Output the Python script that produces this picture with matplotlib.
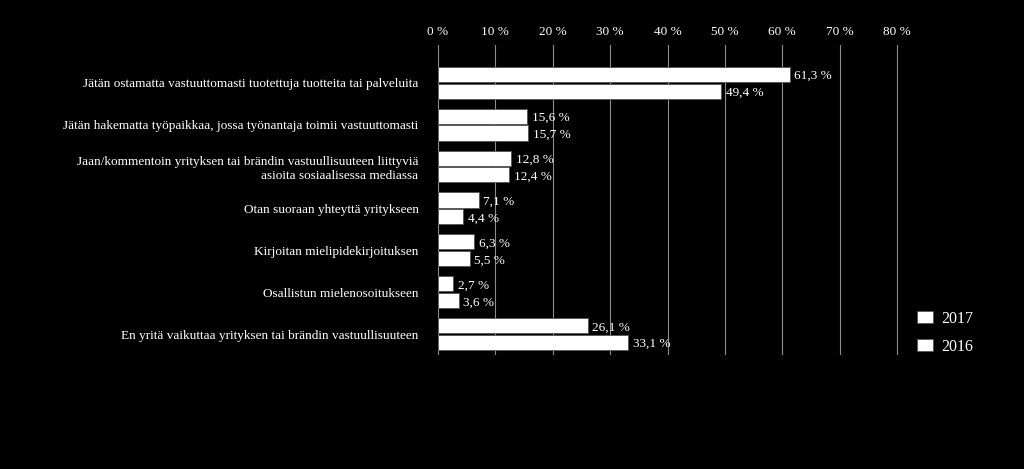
import matplotlib.pyplot as plt
import numpy as np

plt.rcParams['font.family'] = ['Liberation Serif', 'DejaVu Serif']

categories = [
    'Jätän ostamatta vastuuttomasti tuotettuja tuotteita tai palveluita',
    'Jätän hakematta työpaikkaa, jossa työnantaja toimii vastuuttomasti',
    'Jaan/kommentoin yrityksen tai brändin vastuullisuuteen liittyviä\nasioita sosiaalisessa mediassa',
    'Otan suoraan yhteyttä yritykseen',
    'Kirjoitan mielipidekirjoituksen',
    'Osallistun mielenosoitukseen',
    'En yritä vaikuttaa yrityksen tai brändin vastuullisuuteen',
]
v2017 = [61.3, 15.6, 12.8, 7.1, 6.3, 2.7, 26.1]
v2016 = [49.4, 15.7, 12.4, 4.4, 5.5, 3.6, 33.1]
xticks = [0, 10, 20, 30, 40, 50, 60, 70, 80]

fig = plt.figure(figsize=(10.24, 4.69), dpi=100, facecolor='black')
ax = fig.add_axes([0.4277, 0.243, 0.4495, 0.661], facecolor='black')

y = np.arange(len(categories))
h = 0.36
b1 = ax.barh(y - 0.2, v2017, height=h, color='white', edgecolor='#555555', linewidth=0.6, label='2017', zorder=3)
b2 = ax.barh(y + 0.2, v2016, height=h, color='white', edgecolor='#555555', linewidth=0.6, label='2016', zorder=3)

for bars, vals in ((b1, v2017), (b2, v2016)):
    for bar, v in zip(bars, vals):
        ax.text(v + 0.8, bar.get_y() + bar.get_height() / 2 + 0.04,
                f'{v:.1f} %'.replace('.', ','), color='white', fontsize=9.5,
                va='center', ha='left')

ax.set_xlim(0, 80.2)
ax.set_ylim(6.5, -0.9)
ax.set_xticks(xticks)
ax.set_xticklabels([f'{t} %' for t in xticks], color='white', fontsize=9.5)
ax.xaxis.tick_top()
ax.tick_params(axis='x', length=0, pad=5)
ax.set_yticks(y)
ax.set_yticklabels(categories, color='white', fontsize=9.5, ha='right', multialignment='right')
ax.tick_params(axis='y', length=0, pad=14)
ax.grid(axis='x', color='#8c8c8c', linewidth=0.8, zorder=0)
for s in ax.spines.values():
    s.set_visible(False)

ax.legend(handles=[b1, b2], loc='lower left', bbox_to_anchor=(1.01, -0.046),
          frameon=False, labelcolor='white', fontsize=11.5, handlelength=1.0,
          handleheight=0.8, labelspacing=0.75, handletextpad=0.5)

plt.savefig('out.png', dpi=100, facecolor='black')
